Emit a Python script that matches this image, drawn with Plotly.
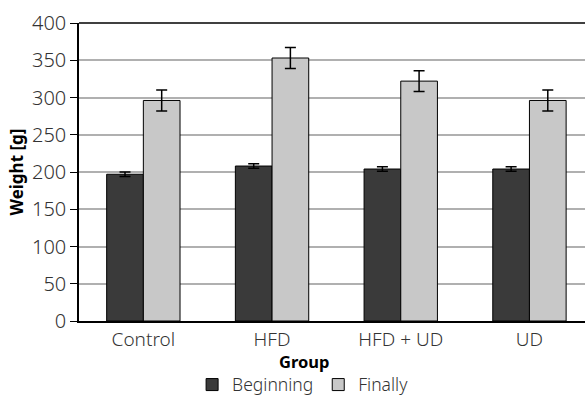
import plotly.graph_objects as go

groups = ["Control", "HFD", "HFD + UD", "UD"]
beginning = [197, 208, 204, 204]
beginning_err = [3, 3, 3, 3]
finally_ = [296, 353, 322, 296]
finally_err = [14, 14, 14, 14]

font_family = "Noto Sans"
fig = go.Figure()
fig.add_trace(go.Bar(
    x=groups, y=beginning, name="Beginning",
    marker=dict(color="#3a3a3a", line=dict(color="#000000", width=1)),
    error_y=dict(type="data", array=beginning_err, color="#000000", thickness=1.5, width=5.5),
))
fig.add_trace(go.Bar(
    x=groups, y=finally_, name="Finally",
    marker=dict(color="#c8c8c8", line=dict(color="#000000", width=1)),
    error_y=dict(type="data", array=finally_err, color="#000000", thickness=1.5, width=5.5),
))

fig.update_layout(
    width=592, height=397,
    margin=dict(l=79, r=0, t=23, b=76),
    plot_bgcolor="white", paper_bgcolor="white",
    barmode="group", bargap=0.43, bargroupgap=0,
    font=dict(family=font_family, size=18, color="#333333"),
    showlegend=True,
    legend=dict(orientation="h", xref="container", yref="container",
                x=0.512, y=0.031, xanchor="center", yanchor="middle",
                font=dict(size=17.5, color="#333333", weight=300),
                itemwidth=30, tracegroupgap=0,
                traceorder="normal"),
    xaxis=dict(range=[-0.5, 3.486], showline=True, linecolor="#000000", linewidth=1.5,
               mirror=False, ticks="", automargin=False, ticklabelstandoff=0,
               tickfont=dict(family=font_family, size=19, color="#333333", weight=300),
               showgrid=False),
    yaxis=dict(range=[0, 400], dtick=50, showline=True, linecolor="#000000", linewidth=1.5,
               ticks="outside", ticklen=7, tickcolor="#000000", tickwidth=1,
               showgrid=True, gridcolor="#b0b0b0", gridwidth=1.5, automargin=False,
               zeroline=False,
               tickfont=dict(family=font_family, size=20, color="#333333", weight=300),
               title=dict(text="<b>Weight [g]</b>", font=dict(size=17, color="#000000"), standoff=4)),
    shapes=[dict(type="line", xref="paper", yref="paper", x0=0, x1=1, y0=1, y1=1,
                 line=dict(color="#000000", width=1.5))],
    annotations=[dict(text="<b>Group</b>", xref="paper", yref="paper", x=0.4386, y=-0.137,
                      xanchor="center", yanchor="middle", showarrow=False,
                      font=dict(size=16.5, color="#000000"))],
)
fig.write_html("out.html", config={"displayModeBar": False},
               post_script="document.body.style.margin='0';document.body.style.overflow='hidden';"
                           "document.documentElement.style.overflow='hidden';")
